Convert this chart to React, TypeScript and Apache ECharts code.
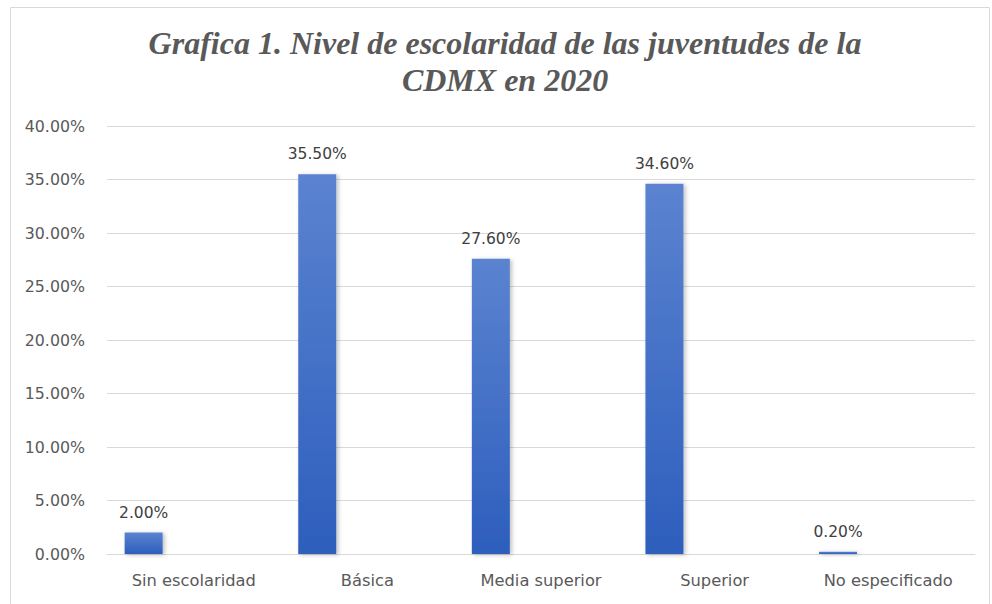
import React, { useEffect, useRef } from "react";
import * as echarts from "echarts";

const categories = ["Sin escolaridad", "Básica", "Media superior", "Superior", "No especificado"];
const values = [2.0, 35.5, 27.6, 34.6, 0.2];
const emptyA: (number | null)[] = [];
const emptyB: (number | null)[] = [];
const titleLines = ["Grafica 1. Nivel de escolaridad de las juventudes de la", "CDMX en 2020"];

export default function App() {
  const ref = useRef<HTMLDivElement>(null);
  useEffect(() => {
    if (!ref.current) return;
    const chart = echarts.init(ref.current, null, { renderer: "svg" });
    const labelFont = "'DejaVu Sans', sans-serif";
    chart.setOption({
      animation: false,
      backgroundColor: "#ffffff",
      title: {
        text: titleLines.join("\n"),
        left: 500,
        top: 19,
        textAlign: "center",
        textStyle: {
          fontFamily: "'Liberation Serif', 'DejaVu Serif', serif",
          fontStyle: "italic",
          fontWeight: "bold",
          fontSize: 32,
          lineHeight: 37,
          color: "#595959",
        },
      },
      graphic: [
        {
          type: "rect",
          shape: { x: 10.5, y: 7.5, width: 979, height: 610 },
          style: { fill: "none", stroke: "#d9d9d9", lineWidth: 1 },
          silent: true,
          z: -1,
        },
      ],
      grid: { left: 107, right: 17, top: 126, bottom: 50, containLabel: false },
      xAxis: {
        type: "category",
        data: categories,
        axisLine: { lineStyle: { color: "#d9d9d9", width: 1 } },
        axisTick: { show: false },
        axisLabel: { color: "#595959", fontSize: 16.3, fontFamily: labelFont, margin: 18, interval: 0 },
      },
      yAxis: {
        type: "value",
        min: 0,
        max: 40,
        interval: 5,
        axisLine: { show: false },
        axisTick: { show: false },
        splitLine: { lineStyle: { color: "#d9d9d9", width: 1 } },
        axisLabel: {
          color: "#595959",
          fontSize: 15.8,
          fontFamily: labelFont,
          margin: 22,
          formatter: (v: number) => v.toFixed(2) + "%",
        },
      },
      series: [
        {
          type: "bar",
          data: values,
          barWidth: 38,
          barGap: "32%",
          itemStyle: {
            color: new echarts.graphic.LinearGradient(0, 0, 0, 1, [
              { offset: 0, color: "#5b83d0" },
              { offset: 1, color: "#2d5ebd" },
            ]),
            shadowBlur: 4,
            shadowColor: "rgba(0,0,0,0.25)",
            shadowOffsetX: 2,
            shadowOffsetY: 1,
          },
          label: {
            show: true,
            position: "top",
            distance: 12,
            color: "#404040",
            fontSize: 15.5,
            fontFamily: labelFont,
            formatter: (p: any) => Number(p.value).toFixed(2) + "%",
          },
        },
        { type: "bar", data: emptyA, barWidth: 38, barGap: "32%" },
        { type: "bar", data: emptyB, barWidth: 38, barGap: "32%" },
      ],
    });
    return () => chart.dispose();
  }, []);
  return (
    <div
      ref={ref}
      style={{ position: "fixed", left: 0, top: 0, width: 992, height: 604 }}
    />
  );
}
